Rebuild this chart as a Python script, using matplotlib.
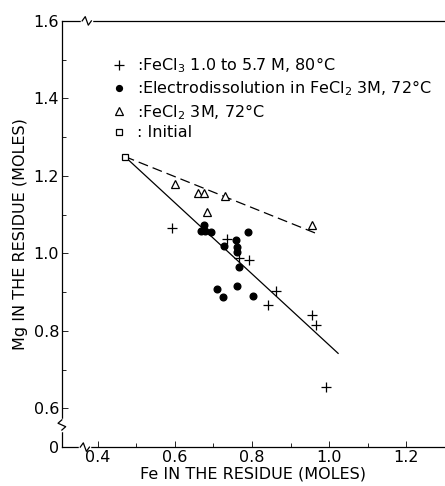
import numpy as np
import matplotlib
matplotlib.use('Agg')
import matplotlib.pyplot as plt
from matplotlib.lines import Line2D

# data
fecl3_fe = [0.592, 0.735, 0.766, 0.792, 0.862, 0.841, 0.956, 0.966, 0.992]
fecl3_mg = [1.065, 1.036, 0.987, 0.982, 0.902, 0.866, 0.842, 0.814, 0.656]

elec_fe = [0.675, 0.667, 0.678, 0.693, 0.790, 0.728, 0.758, 0.760, 0.762,
           0.767, 0.708, 0.724, 0.760, 0.803]
elec_mg = [1.074, 1.059, 1.058, 1.055, 1.055, 1.018, 1.035, 1.016, 1.003,
           0.966, 0.908, 0.887, 0.915, 0.889]

fecl2_fe = [0.600, 0.660, 0.675, 0.730, 0.683, 0.956]
fecl2_mg = [1.178, 1.155, 1.155, 1.147, 1.108, 1.072]

init_fe = [0.47]
init_mg = [1.25]

# fitted lines (start at the initial point)
solid_fe = [0.47, 1.023]
solid_mg = [1.25, 0.742]
dash_fe = [0.47, 0.97]
dash_mg = [1.25, 1.05]

xticks = [0.4, 0.6, 0.8, 1.0, 1.2]
yticks = [0.5, 0.6, 0.8, 1.0, 1.2, 1.4, 1.6]
ytick_labels = ['0', '0.6', '0.8', '1.0', '1.2', '1.4', '1.6']

plt.rcParams['font.family'] = ['DejaVu Sans']

fig = plt.figure(figsize=(4.45, 4.86), dpi=100)
ax = fig.add_axes([0.139, 0.080, 0.861, 0.877])

ax.plot(solid_fe, solid_mg, color='black', lw=0.9)
ax.plot(dash_fe, dash_mg, color='black', lw=0.9, dashes=(8, 4))

ax.plot(fecl3_fe, fecl3_mg, ls='none', marker='+', ms=7, mew=0.9, color='black')
ax.plot(elec_fe, elec_mg, ls='none', marker='o', ms=4.8, color='black')
ax.plot(fecl2_fe, fecl2_mg, ls='none', marker='^', ms=6, mew=0.9,
        mfc='white', mec='black')
ax.plot(init_fe, init_mg, ls='none', marker='s', ms=4.5, mew=0.9,
        mfc='white', mec='black')

ax.set_xlim(0.307, 1.3)
ax.set_ylim(0.5, 1.6)
ax.set_xticks(xticks)
ax.set_xticklabels(['0.4', '0.6', '0.8', '1.0', '1.2'])
ax.set_xticks(np.arange(0.5, 1.3, 0.2), minor=True)
ax.set_yticks(yticks)
ax.set_yticklabels(ytick_labels)
ax.set_yticks([0.7, 0.9, 1.1, 1.3, 1.5], minor=True)
ax.tick_params(direction='in', length=4, width=0.6, labelsize=11.5, pad=2)
ax.tick_params(which='minor', direction='in', length=3, width=0.6)
ax.spines['right'].set_visible(False)
for s in ['left', 'top', 'bottom']:
    ax.spines[s].set_linewidth(0.9)

ax.set_xlabel('Fe IN THE RESIDUE (MOLES)', fontsize=11.5, labelpad=1)
ax.set_ylabel('Mg IN THE RESIDUE (MOLES)', fontsize=11.5, labelpad=4)

# axis break marks (small zigzags on the spines)
def brk(x, y, horiz=True):
    w, h = 0.012, 0.010
    if horiz:
        ax.plot([x - w, x + w], [y, y], transform=ax.transAxes, color='white',
                lw=2.5, clip_on=False, zorder=5)
        xs = [x - w, x - w / 3, x + w / 3, x + w]
        ys = [y, y + h, y - h, y]
    else:
        ax.plot([x, x], [y - w, y + w], transform=ax.transAxes, color='white',
                lw=2.5, clip_on=False, zorder=5)
        ys = [y - w, y - w / 3, y + w / 3, y + w]
        xs = [x, x + h, x - h, x]
    ax.plot(xs, ys, transform=ax.transAxes, color='black', lw=0.9,
            clip_on=False, zorder=6)

brk(0.065, 1.0)
brk(0.060, 0.0)
brk(0.0, 0.052, horiz=False)

handles = [
    Line2D([], [], ls='none', marker='+', ms=7, mew=0.9, color='black'),
    Line2D([], [], ls='none', marker='o', ms=4.2, color='black'),
    Line2D([], [], ls='none', marker='^', ms=6, mew=0.9, mfc='white', mec='black'),
    Line2D([], [], ls='none', marker='s', ms=4.5, mew=0.9, mfc='white', mec='black'),
]
labels = [':FeCl$_3$ 1.0 to 5.7 M, 80°C',
          ':Electrodissolution in FeCl$_2$ 3M, 72°C',
          ':FeCl$_2$ 3M, 72°C',
          ': Initial']
ax.legend(handles, labels, loc='upper left', bbox_to_anchor=(0.10, 0.945),
          frameon=False, fontsize=11.5, handlelength=1.0, handletextpad=0.6,
          labelspacing=0.22, borderpad=0.2)

fig.savefig('out.png', dpi=100)
